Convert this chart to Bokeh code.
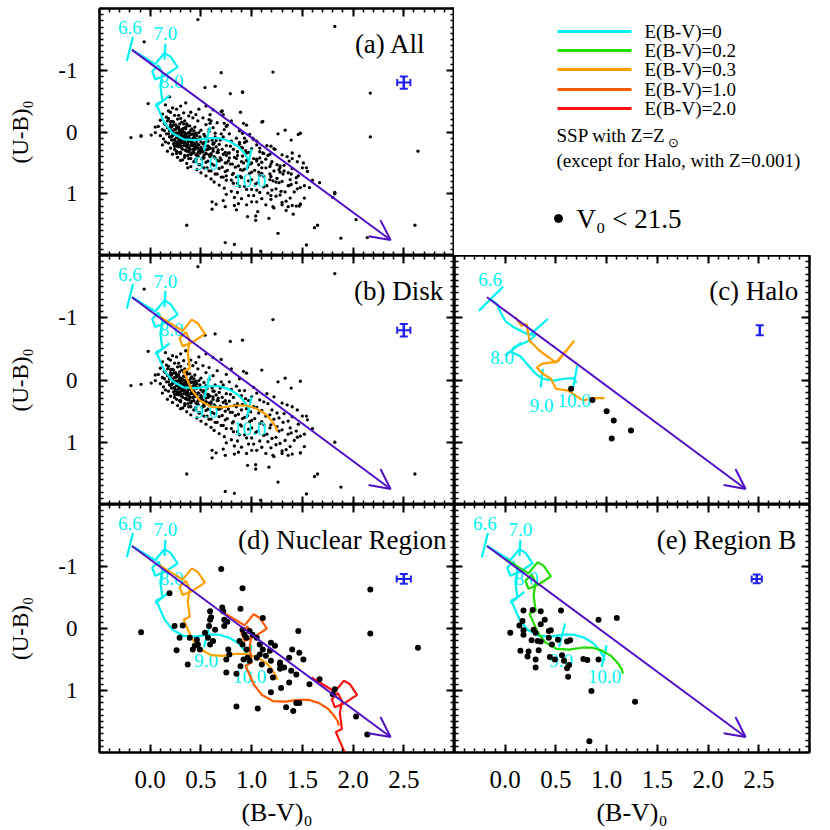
import numpy as np
from bokeh.plotting import figure
from bokeh.layouts import column, row
from bokeh.models import (Range1d, FixedTicker, LinearAxis, Arrow, OpenHead, Whisker, TeeHead,
                          ColumnDataSource, PrintfTickFormatter, CustomLabelingPolicy)
from bokeh.embed import file_html
from bokeh.resources import INLINE
from bokeh.core.properties import value

# ---------------------------------------------------------------- data
bv_ticks = [0.0, 0.5, 1.0, 1.5, 2.0, 2.5]
ub_ticks = [-1, 0, 1]

disk_bv = [
    0.15, 0.35, 0.55,
    0.22, 0.30, 0.48,
    0.18, 0.26, 0.40, 0.62,
    0.12, 0.20, 0.28, 0.33, 0.45, 0.70,
    0.16, 0.24, 0.30, 0.38, 0.52,
    0.10, 0.18, 0.22, 0.27, 0.34, 0.42, 0.58, 0.80,
    0.14, 0.20, 0.25, 0.31, 0.36, 0.47, 0.66,
    0.08, 0.15, 0.19, 0.23, 0.28, 0.33, 0.39, 0.44, 0.55, 0.75, 0.95,
    0.12, 0.17, 0.21, 0.26, 0.30, 0.35, 0.41, 0.50, 0.62,
    0.05, 0.14, 0.18, 0.22, 0.25, 0.29, 0.32, 0.37, 0.43, 0.48, 0.58, 0.70, 0.88,
    0.10, 0.16, 0.20, 0.24, 0.27, 0.31, 0.34, 0.38, 0.42, 0.46, 0.53, 0.64, 0.78,
    0.13, 0.19, 0.23, 0.26, 0.29, 0.33, 0.36, 0.40, 0.44, 0.49, 0.55, 0.61, 0.72, 0.85, 1.02,
    0.15, 0.21, 0.25, 0.28, 0.31, 0.35, 0.38, 0.41, 0.45, 0.50, 0.56, 0.63, 0.69, 0.80, 0.93,
    0.12, 0.18, 0.24, 0.27, 0.30, 0.34, 0.37, 0.40, 0.43, 0.47, 0.52, 0.57, 0.62, 0.68, 0.75, 0.88, 1.05,
    0.20, 0.26, 0.32, 0.36, 0.39, 0.42, 0.46, 0.50, 0.54, 0.59, 0.65, 0.71, 0.79, 0.90, 1.00, 1.15,
    0.17, 0.24, 0.29, 0.35, 0.38, 0.44, 0.48, 0.52, 0.57, 0.62, 0.67, 0.74, 0.82, 0.94, 1.08, 1.22,
    0.22, 0.30, 0.37, 0.41, 0.45, 0.50, 0.55, 0.60, 0.66, 0.72, 0.78, 0.86, 0.97, 1.12, 1.30,
    0.27, 0.34, 0.40, 0.47, 0.53, 0.58, 0.63, 0.69, 0.75, 0.83, 0.91, 1.02, 1.16, 1.35,
    0.30, 0.38, 0.45, 0.51, 0.57, 0.64, 0.70, 0.77, 0.85, 0.95, 1.05, 1.20, 1.40,
    0.36, 0.43, 0.49, 0.55, 0.61, 0.68, 0.74, 0.81, 0.90, 0.99, 1.10, 1.25, 1.45,
    0.40, 0.48, 0.56, 0.63, 0.71, 0.79, 0.87, 0.96, 1.07, 1.18, 1.32, 1.50,
    0.46, 0.53, 0.60, 0.68, 0.76, 0.84, 0.93, 1.03, 1.14, 1.27, 1.40,
    0.50, 0.58, 0.66, 0.74, 0.82, 0.91, 1.00, 1.10, 1.22, 1.36, 1.55,
    0.55, 0.64, 0.72, 0.81, 0.89, 0.98, 1.08, 1.19, 1.31, 1.46,
    0.60, 0.70, 0.80, 0.90, 1.00, 1.12, 1.25, 1.38,
    0.63, 0.75, 0.86, 0.97, 1.06, 1.18, 1.30, 1.44, 1.60,
    0.68, 0.82, 0.93, 1.04, 1.15, 1.27, 1.39, 1.52,
    0.73, 0.88, 1.00, 1.12, 1.24, 1.36, 1.48,
    0.80, 0.95, 1.08, 1.20, 1.33, 1.45,
    0.75, 0.86, 1.02, 1.16, 1.28, 1.42,
    0.83, 0.97, 1.10, 1.24, 1.38,
    0.72, 0.90, 1.05, 1.19, 1.34, 1.52,
    0.87, 1.00, 1.14, 1.30, 1.48,
    0.74, 0.95, 1.22, 1.40,
    # dense core
    0.21, 0.24, 0.28, 0.32, 0.35, 0.39, 0.26, 0.30, 0.34, 0.22,
    0.27, 0.31, 0.36, 0.40, 0.29, 0.33, 0.25, 0.38, 0.42, 0.46,
    0.23, 0.28, 0.33, 0.37, 0.41, 0.31, 0.35, 0.39, 0.44, 0.48,
    0.26, 0.30, 0.36, 0.43, 0.51, 0.34, 0.40, 0.47, 0.55, 0.32,
    0.17, 0.20, 0.23, 0.26, 0.29, 0.33, 0.37,
    0.19, 0.22, 0.25, 0.28, 0.31, 0.35, 0.40, 0.45,
    0.21, 0.24, 0.27, 0.30, 0.34, 0.38, 0.43, 0.49,
    0.25, 0.29, 0.32, 0.36, 0.41, 0.46, 0.53,
    0.28, 0.33, 0.38, 0.44, 0.50, 0.57,
    0.35, 0.42, 0.48, 0.55, 0.62,
    0.40, 0.47, 0.53, 0.60, 0.67,
    0.45, 0.52, 0.59, 0.66,
    # scattered
    0.47, -0.06, 1.82, 1.21, 0.64, 0.79, -0.02, -0.19, 1.10, 1.26,
    1.33, 1.39, 1.48, 0.92, 1.54, 1.48, 2.61, 1.88, 1.65, 1.62,
    1.54, 1.26, 1.09, 0.74, 0.83, 0.36, 1.04, 1.04, 0.96, 1.17,
    0.61, 0.61, 0.65, 0.83, 1.36, 1.30, 1.21,
    0.54, 0.91, -0.09, 0.01, 0.05, 1.82,
]
disk_ub = [
    -0.44, -0.47, -0.42,
    -0.39, -0.42, -0.37,
    -0.34, -0.37, -0.32, -0.36,
    -0.29, -0.32, -0.27, -0.31, -0.28, -0.33,
    -0.24, -0.27, -0.22, -0.26, -0.23,
    -0.19, -0.22, -0.17, -0.21, -0.18, -0.23, -0.20, -0.18,
    -0.14, -0.17, -0.12, -0.16, -0.13, -0.18, -0.15,
    -0.09, -0.12, -0.07, -0.11, -0.08, -0.13, -0.10, -0.08, -0.12, -0.09, -0.11,
    -0.04, -0.07, -0.02, -0.06, -0.03, -0.08, -0.05, -0.03, -0.07,
    0.01, -0.02, 0.03, -0.01, 0.02, -0.03, 0.00, 0.02, -0.02, 0.01, -0.01, 0.03, -0.02,
    0.06, 0.03, 0.08, 0.04, 0.07, 0.02, 0.05, 0.07, 0.03, 0.06, 0.04, 0.08, 0.03,
    0.11, 0.08, 0.13, 0.09, 0.12, 0.07, 0.10, 0.12, 0.08, 0.11, 0.09, 0.13, 0.08, 0.10, 0.12,
    0.16, 0.13, 0.18, 0.14, 0.17, 0.12, 0.15, 0.17, 0.13, 0.16, 0.14, 0.18, 0.13, 0.15, 0.17,
    0.21, 0.18, 0.23, 0.19, 0.22, 0.17, 0.20, 0.22, 0.18, 0.21, 0.19, 0.23, 0.18, 0.20, 0.22, 0.17, 0.21,
    0.26, 0.23, 0.28, 0.24, 0.27, 0.22, 0.25, 0.27, 0.23, 0.26, 0.24, 0.28, 0.23, 0.25, 0.27, 0.22,
    0.31, 0.28, 0.33, 0.29, 0.32, 0.27, 0.30, 0.32, 0.28, 0.31, 0.29, 0.33, 0.28, 0.30, 0.32, 0.27,
    0.36, 0.33, 0.38, 0.34, 0.37, 0.32, 0.35, 0.37, 0.33, 0.36, 0.34, 0.38, 0.33, 0.35, 0.37,
    0.41, 0.38, 0.43, 0.39, 0.42, 0.37, 0.40, 0.42, 0.38, 0.41, 0.39, 0.43, 0.38, 0.40,
    0.46, 0.43, 0.48, 0.44, 0.47, 0.42, 0.45, 0.47, 0.43, 0.46, 0.44, 0.48, 0.43,
    0.51, 0.48, 0.53, 0.49, 0.52, 0.47, 0.50, 0.52, 0.48, 0.51, 0.49, 0.53, 0.48,
    0.56, 0.53, 0.58, 0.54, 0.57, 0.52, 0.55, 0.57, 0.53, 0.56, 0.54, 0.58,
    0.61, 0.58, 0.63, 0.59, 0.62, 0.57, 0.60, 0.62, 0.58, 0.61, 0.59,
    0.66, 0.63, 0.68, 0.64, 0.67, 0.62, 0.65, 0.67, 0.63, 0.66, 0.64,
    0.71, 0.68, 0.73, 0.69, 0.72, 0.67, 0.70, 0.72, 0.68, 0.71,
    0.76, 0.73, 0.78, 0.74, 0.77, 0.72, 0.75, 0.77,
    0.81, 0.78, 0.83, 0.79, 0.82, 0.77, 0.80, 0.82, 0.78,
    0.86, 0.83, 0.88, 0.84, 0.87, 0.82, 0.85, 0.87,
    0.91, 0.88, 0.93, 0.89, 0.92, 0.87, 0.90,
    0.96, 0.93, 0.98, 0.94, 0.97, 0.92,
    1.01, 0.98, 1.03, 0.99, 1.02, 0.97,
    1.06, 1.03, 1.08, 1.04, 1.07,
    1.11, 1.08, 1.13, 1.09, 1.12, 1.07,
    1.16, 1.13, 1.18, 1.14, 1.17,
    1.21, 1.18, 1.23, 1.19,
    # dense core
    -0.08, -0.04, -0.06, -0.01, -0.05, 0.00, 0.02, 0.04, 0.01, 0.06,
    0.09, 0.06, 0.08, 0.04, 0.13, 0.11, 0.16, 0.14, 0.10, 0.12,
    0.19, 0.21, 0.17, 0.24, 0.19, 0.26, 0.22, 0.29, 0.25, 0.21,
    0.31, 0.35, 0.31, 0.33, 0.28, 0.41, 0.36, 0.39, 0.35, 0.45,
    -0.18, -0.12, -0.16, -0.09, -0.13, -0.06, -0.10,
    -0.02, 0.03, -0.04, 0.01, -0.01, 0.04, -0.03, 0.02,
    0.08, 0.12, 0.06, 0.10, 0.07, 0.09, 0.05, 0.08,
    0.16, 0.19, 0.14, 0.18, 0.15, 0.13, 0.17,
    0.24, 0.22, 0.26, 0.21, 0.25, 0.23,
    0.30, 0.28, 0.32, 0.29, 0.27,
    0.37, 0.34, 0.38, 0.35, 0.33,
    0.44, 0.42, 0.40, 0.46,
    # scattered
    -1.82, -1.46, -1.71, -0.97, -0.74, -0.62, -0.46, 0.09, -0.16, 0.03,
    -0.03, 0.13, 0.02, -0.14, 0.58, 1.17, 1.51, 1.72, 1.51, 1.55,
    1.83, 1.64, 1.93, 1.79, 1.82, 1.51, 1.36, 1.43, 1.37, 1.40,
    1.13, 1.25, 1.17, 1.19, 1.21, 1.18, 1.21,
    -0.72, -0.64, 0.07, 0.05, -0.08, 1.00,
]

halo_bv = [0.65, 0.86, 1.00, 1.07, 1.24, 1.05]
halo_ub = [0.14, 0.32, 0.50, 0.65, 0.81, 0.94]

nuc_bv = [
    0.70, 0.91, 0.19, 2.17, 0.89, 0.71, 0.72, 0.59, 0.60, 0.59,
    0.73, 0.76, 0.73, 0.58, 0.64, -0.09, 0.24, 0.32, 0.29, 0.39,
    0.46, 0.47, 0.44, 0.54, 0.57, 0.26, 0.37, 0.42, 0.49, 0.59,
    0.62, 0.77, 0.75, 0.78, 0.91, 0.93, 0.95, 0.98, 1.01, 1.05,
    0.88, 0.91, 0.95, 0.92, 0.96, 0.98, 1.08, 1.11, 1.18, 1.14,
    1.19, 1.23, 1.11, 1.08, 1.10, 1.05, 0.75, 0.85, 0.89, 1.19,
    1.28, 1.32, 1.18, 1.21, 1.28, 1.28, 1.37, 1.40, 1.47, 1.51,
    1.39, 1.44, 1.46, 1.19, 1.29, 1.34, 1.41, 1.44, 1.47, 0.85,
    1.06, 1.37, 1.57, 1.67, 1.82, 1.80, 2.03, 2.14, 2.17, 2.64,
]
nuc_ub = [
    -0.96, -0.65, -0.57, -0.63, -0.32, -0.34, -0.28, -0.28, -0.18, -0.14,
    -0.14, -0.11, -0.04, -0.04, 0.02, 0.06, -0.04, -0.05, 0.15, 0.15,
    0.18, 0.26, 0.28, 0.07, 0.15, 0.35, 0.58, 0.34, 0.34, 0.26,
    0.20, 0.34, 0.50, 0.42, 0.02, 0.10, 0.15, 0.04, 0.10, 0.15,
    0.20, 0.26, 0.34, 0.50, 0.47, 0.52, 0.26, 0.34, 0.36, 0.44,
    0.23, 0.28, -0.17, 0.42, 0.58, 0.47, 0.71, 0.73, 0.61, 0.52,
    0.55, 0.63, 0.68, 0.79, 0.58, 0.65, 0.47, 0.34, 0.39, 0.50,
    0.68, 0.74, 0.04, 1.03, 0.96, 1.27, 1.33, 1.20, 1.20, 1.26,
    1.29, 0.87, 0.90, 0.82, 0.98, 1.06, 1.42, 1.71, 0.08, 0.31,
]

regb_bv = [
    0.27, 0.35, 0.55, 0.18, 0.92, 1.10, 0.17, 0.39, 0.35, 0.14,
    0.05, 0.18, 0.18, 0.28, 0.30, 0.43, 0.45, 0.26, 0.32, 0.35,
    0.43, 0.46, 0.52, 0.61, 0.64, 0.15, 0.23, 0.33, 0.22, 0.30,
    0.44, 0.49, 0.58, 0.63, 0.61, 0.30, 0.56, 0.77, 0.81, 0.92,
    0.62, 0.85, 1.28, 0.83,
]
regb_ub = [
    -0.30, -0.28, -0.29, -0.29, -0.14, -0.17, -0.12, -0.14, -0.07, -0.05,
    0.07, 0.03, 0.10, 0.02, 0.07, 0.04, 0.03, 0.19, 0.20, 0.21,
    0.15, 0.26, 0.18, 0.21, 0.19, 0.36, 0.37, 0.35, 0.45, 0.50,
    0.46, 0.50, 0.52, 0.59, 0.64, 0.63, 0.43, 0.49, 0.51, 0.50,
    0.78, 1.01, 1.18, 1.82,
]

# SSP tracks, solar metallicity (E(B-V)=0, 0.2, 0.3, 1.0, 2.0)
ssp0_bv = [-0.18, -0.05, 0.05, 0.14, 0.20, 0.27, 0.15, 0.05, 0.02, 0.08, 0.12, 0.10, 0.12,
           0.06, 0.10, 0.14, 0.22, 0.33, 0.45, 0.57, 0.68, 0.78, 0.87, 0.93, 0.97, 0.98]
ssp0_ub = [-1.33, -1.20, -1.10, -1.28, -1.22, -1.05, -0.92, -0.85, -0.98, -1.08, -0.95, -0.75, -0.50,
           -0.45, -0.30, -0.15, 0.02, 0.12, 0.13, 0.10, 0.10, 0.15, 0.24, 0.35, 0.45, 0.52]
ssp02_bv = [0.00, 0.13, 0.23, 0.32, 0.38, 0.45, 0.33, 0.23, 0.20, 0.26, 0.30, 0.28, 0.30,
            0.24, 0.28, 0.32, 0.40, 0.51, 0.63, 0.75, 0.86, 0.96, 1.05, 1.11, 1.15, 1.16]
ssp02_ub = [-1.12, -0.99, -0.89, -1.07, -1.01, -0.84, -0.71, -0.64, -0.77, -0.87, -0.74, -0.54, -0.29,
            -0.24, -0.09, 0.06, 0.23, 0.33, 0.34, 0.31, 0.31, 0.36, 0.45, 0.56, 0.66, 0.73]
ssp03_bv = [0.09, 0.22, 0.32, 0.41, 0.47, 0.54, 0.42, 0.32, 0.29, 0.35, 0.39, 0.37, 0.39,
            0.33, 0.37, 0.41, 0.49, 0.60, 0.72, 0.84, 0.95, 1.05, 1.14, 1.20, 1.24, 1.25]
ssp03_ub = [-1.02, -0.89, -0.79, -0.97, -0.91, -0.74, -0.61, -0.54, -0.67, -0.77, -0.64, -0.44, -0.19,
            -0.14, 0.01, 0.16, 0.33, 0.43, 0.44, 0.41, 0.41, 0.46, 0.55, 0.66, 0.76, 0.83]
ssp10_bv = [0.70, 0.83, 0.93, 1.02, 1.08, 1.15, 1.03, 0.93, 0.90, 0.96, 1.00, 0.98, 1.00,
            0.94, 0.98, 1.02, 1.10, 1.21, 1.33, 1.45, 1.56, 1.66, 1.75, 1.81, 1.85, 1.86]
ssp10_ub = [-0.28, -0.15, -0.05, -0.23, -0.17, 0.00, 0.13, 0.20, 0.07, -0.03, 0.10, 0.30, 0.55,
            0.60, 0.75, 0.90, 1.07, 1.17, 1.18, 1.15, 1.15, 1.20, 1.29, 1.40, 1.50, 1.57]
ssp20_bv = [1.59, 1.72, 1.82, 1.91, 1.97, 2.04, 1.92, 1.82, 1.79, 1.85, 1.89, 1.87, 1.89,
            1.83, 1.87, 1.91, 1.99, 2.10, 2.22, 2.34, 2.45, 2.55, 2.64, 2.70, 2.74, 2.75]
ssp20_ub = [0.79, 0.92, 1.02, 0.84, 0.90, 1.07, 1.20, 1.27, 1.14, 1.04, 1.17, 1.37, 1.62,
            1.67, 1.82, 1.97, 2.14, 2.24, 2.25, 2.22, 2.22, 2.27, 2.36, 2.47, 2.57, 2.64]

# age ticks (log age) on the E(B-V)=0 solar track
age_labels = ["6.6", "7.0", "8.0", "9.0", "10.0"]
age_tick_bv0 = [-0.23, 0.15, 0.05, 0.53, 0.95]
age_tick_ub0 = [-1.15, -1.43, -0.41, 0.30, 0.62]
age_tick_bv1 = [-0.17, 0.14, 0.19, 0.59, 1.00]
age_tick_ub1 = [-1.54, -1.17, -0.59, -0.08, 0.27]

# SSP tracks, Z=0.001 (halo)
halo0_bv = [-0.15, -0.08, -0.05, 0.00, 0.08, 0.20, 0.30, 0.22, 0.08, 0.06, 0.15, 0.22,
            0.30, 0.37, 0.48, 0.58, 0.68, 0.70]
halo0_ub = [-1.30, -1.22, -1.10, -0.95, -0.85, -0.75, -0.72, -0.62, -0.52, -0.45, -0.38, -0.25,
            -0.10, -0.02, 0.01, -0.02, -0.03, 0.05]
halo03_bv = [0.10, 0.16, 0.21, 0.24, 0.34, 0.50, 0.60, 0.68, 0.52, 0.36, 0.31, 0.37, 0.45,
             0.50, 0.62, 0.72, 0.77, 0.86, 0.98]
halo03_ub = [-1.01, -0.87, -0.90, -0.63, -0.47, -0.28, -0.47, -0.63, -0.30, -0.26, -0.20, -0.10, -0.02,
             0.14, 0.17, 0.28, 0.33, 0.29, 0.29]
halo_age_labels = ["6.6", "8.0", "9.0", "10.0"]
halo_age_tick_bv0 = [-0.26, 0.23, 0.00, 0.37, 0.71]
halo_age_tick_ub0 = [-1.11, -0.71, -0.39, -0.18, -0.23]
halo_age_tick_bv1 = [-0.02, 0.42, 0.16, 0.35, 0.67]
halo_age_tick_ub1 = [-1.50, -0.98, -0.60, 0.12, 0.12]

# reddening vector
redd_bv = [-0.18, 2.37]
redd_ub = [-1.33, 1.75]

# typical photometric errors per panel: (B-V, U-B, sigma_BV, sigma_UB)
err_a = (2.50, -0.80, 0.065, 0.10)
err_b = (2.50, -0.80, 0.065, 0.10)
err_c = (2.51, -0.80, 0.0, 0.08)
err_d = (2.50, -0.80, 0.07, 0.08)
err_e = (2.48, -0.80, 0.05, 0.07)

ebv_labels = ["E(B-V)=0", "E(B-V)=0.2", "E(B-V)=0.3", "E(B-V)=1.0", "E(B-V)=2.0"]

# ---------------------------------------------------------------- style
FONT = "Liberation Serif"
C_CYAN = "#00f2f2"
C_GREEN = "#22dd00"
C_ORANGE = "#ffa000"
C_ORED = "#ff5a00"
C_RED = "#ff1010"
C_ARROW = "#5010c8"
C_ERR = "#2020ee"
TRACK_COLORS = [C_CYAN, C_GREEN, C_ORANGE, C_ORED, C_RED]

XR = (-0.5, 3.0)
YR = (2.0, -2.0)
FW = 355
LB = 99
RB = 12
TB = 8

x_minor = [round(v, 2) for v in np.arange(-0.5, 3.0001, 0.1)]
y_minor = [round(v, 2) for v in np.arange(-2.0, 2.0001, 0.1)]

NO_LABELS = CustomLabelingPolicy(code="""
const all = [...indices];
for (const i of all) indices.unset(i);
return indices;
""")


def style_axis(ax, major, minor, fmt, show, font_size, standoff):
    ax.ticker = FixedTicker(ticks=major, minor_ticks=minor)
    ax.formatter = PrintfTickFormatter(format=fmt)
    ax.axis_line_color = "black"
    ax.axis_line_width = 2
    ax.major_tick_in = 8
    ax.major_tick_out = 0
    ax.minor_tick_in = 4
    ax.minor_tick_out = 0
    ax.major_tick_line_color = "black"
    ax.major_tick_line_width = 2
    ax.minor_tick_line_color = "black"
    ax.minor_tick_line_width = 1.5
    if show:
        ax.major_label_text_font = FONT
        ax.major_label_text_font_size = font_size
        ax.major_label_text_color = "black"
        ax.major_label_standoff = standoff
        ax.major_label_policy = CustomLabelingPolicy(code="return indices;")
    else:
        ax.major_label_text_font_size = "0px"
        ax.major_label_standoff = 0
        ax.major_label_policy = NO_LABELS


def make_panel(fh, is_left, is_bottom, top_border, bottom_border):
    p = figure(frame_width=FW, frame_height=fh,
               x_range=Range1d(*XR), y_range=Range1d(*YR),
               output_backend="svg", toolbar_location=None,
               min_border_left=LB if is_left else 0,
               min_border_right=0 if is_left else RB,
               min_border_top=top_border, min_border_bottom=bottom_border)
    p.add_layout(LinearAxis(), "above")
    p.add_layout(LinearAxis(), "right")
    p.grid.visible = False
    p.outline_line_color = "black"
    p.outline_line_width = 2
    for ax in p.xaxis:
        style_axis(ax, bv_ticks, x_minor, "%.1f", False, "0px", 0)
    for ax in p.yaxis:
        style_axis(ax, ub_ticks, y_minor, "%d", False, "0px", 0)
    if is_bottom:
        bx = p.below[0]
        style_axis(bx, bv_ticks, x_minor, "%.1f", True, "25px", 18)
        bx.axis_label = "(B-V)\u2080"
        bx.axis_label_text_font = FONT
        bx.axis_label_text_font_size = "26px"
        bx.axis_label_text_font_style = "normal"
        bx.axis_label_text_color = "black"
        bx.axis_label_standoff = 7
    if is_left:
        ly = p.left[0]
        style_axis(ly, ub_ticks, y_minor, "%d", True, "23px", 22)
        ly.axis_label = "(U-B)\u2080"
        ly.axis_label_text_font = FONT
        ly.axis_label_text_font_size = "23px"
        ly.axis_label_text_font_style = "normal"
        ly.axis_label_text_color = "black"
        ly.axis_label_standoff = 22
    # reddening vector
    p.add_layout(Arrow(end=OpenHead(size=20, line_color=C_ARROW, line_width=2),
                       x_start=redd_bv[0], y_start=redd_ub[0],
                       x_end=redd_bv[1], y_end=redd_ub[1],
                       line_color=C_ARROW, line_width=2))
    return p


def add_points(p, bv, ub, size):
    n = min(len(bv), len(ub))
    p.scatter(bv[:n], ub[:n], size=size, color="black", line_color=None)


def add_err(p, err):
    x, y, dx, dy = err
    if dx > 0:
        src = ColumnDataSource(dict(base=[y], lo=[x - dx], hi=[x + dx]))
        p.add_layout(Whisker(source=src, base="base", lower="lo", upper="hi", dimension="width",
                             line_color=C_ERR, line_width=2,
                             upper_head=TeeHead(size=7, line_color=C_ERR, line_width=2),
                             lower_head=TeeHead(size=7, line_color=C_ERR, line_width=2)))
    src2 = ColumnDataSource(dict(base=[x], lo=[y - dy], hi=[y + dy]))
    p.add_layout(Whisker(source=src2, base="base", lower="lo", upper="hi", dimension="height",
                         line_color=C_ERR, line_width=2.5,
                         upper_head=TeeHead(size=8, line_color=C_ERR, line_width=2),
                         lower_head=TeeHead(size=8, line_color=C_ERR, line_width=2)))


def add_track(p, bv, ub, color):
    p.line(bv, ub, line_color=color, line_width=2.2)


def add_solar_ages(p):
    add_track(p, ssp0_bv, ssp0_ub, C_CYAN)
    p.segment(age_tick_bv0, age_tick_ub0, age_tick_bv1, age_tick_ub1, line_color=C_CYAN, line_width=2.2)
    p.text(x=[-0.20, 0.15, 0.21, 0.55, 0.98], y=[-1.70, -1.59, -0.81, 0.51, 0.78], text=age_labels,
           text_font=value(FONT), text_font_size="19px", text_color=C_CYAN,
           text_align="center", text_baseline="middle")


def add_title(p, txt, xr):
    p.text(x=[xr], y=[-1.43], text=[txt], text_font=value(FONT), text_font_size="27px",
           text_color="black", text_align="right", text_baseline="middle")


H_TOP, H_MID, H_BOT = 247, 249, 248

# (a) All
pa = make_panel(H_TOP, True, False, TB, 0)
add_points(pa, disk_bv + halo_bv + nuc_bv, disk_ub + halo_ub + nuc_ub, 3.3)
add_solar_ages(pa)
add_err(pa, err_a)
add_title(pa, "(a) All", 2.72)

# legend panel (pixel coordinates inside an axis-less frame)
pl = figure(frame_width=FW, frame_height=H_TOP, x_range=Range1d(0, FW), y_range=Range1d(H_TOP, 0),
            output_backend="svg", toolbar_location=None, x_axis_type=None, y_axis_type=None,
            min_border_left=0, min_border_right=RB, min_border_top=TB, min_border_bottom=0)
pl.grid.visible = False
pl.outline_line_color = None
rows_y = [23, 42, 61, 81, 100]
pl.segment(x0=[103] * 5, y0=rows_y, x1=[177] * 5, y1=rows_y, line_color=TRACK_COLORS, line_width=3)
pl.text(x=[190] * 5, y=rows_y, text=ebv_labels, text_font=value(FONT), text_font_size="19px",
        text_color="black", text_align="left", text_baseline="middle")
pl.text(x=[102], y=[127], text=["SSP with Z=Z"], text_font=value(FONT), text_font_size="19px",
        text_color="black", text_align="left", text_baseline="middle")
pl.text(x=[213], y=[134], text=["\u2299"], text_font=value(FONT), text_font_size="13px",
        text_color="black", text_align="left", text_baseline="middle")
pl.text(x=[102], y=[152], text=["(except for Halo, with Z=0.001)"], text_font=value(FONT),
        text_font_size="19px", text_color="black", text_align="left", text_baseline="middle")
pl.scatter(x=[104], y=[210], size=8, color="black")
pl.text(x=[122], y=[210], text=["V\u2080 < 21.5"], text_font=value(FONT), text_font_size="27px",
        text_color="black", text_align="left", text_baseline="middle")

# (b) Disk
pb = make_panel(H_MID, True, False, 0, 0)
add_points(pb, disk_bv, disk_ub, 3.3)
add_solar_ages(pb)
add_track(pb, ssp03_bv, ssp03_ub, C_ORANGE)
add_err(pb, err_b)
add_title(pb, "(b) Disk", 2.89)

# (c) Halo
pc = make_panel(H_MID, False, False, 0, 0)
add_track(pc, halo0_bv, halo0_ub, C_CYAN)
pc.segment(halo_age_tick_bv0, halo_age_tick_ub0, halo_age_tick_bv1, halo_age_tick_ub1,
           line_color=C_CYAN, line_width=2.2)
add_track(pc, halo03_bv, halo03_ub, C_ORANGE)
pc.text(x=[-0.15, -0.03, 0.36, 0.68], y=[-1.62, -0.36, 0.41, 0.33],
        text=halo_age_labels, text_font=value(FONT), text_font_size="19px",
        text_color=C_CYAN, text_align="center", text_baseline="middle")
add_points(pc, halo_bv, halo_ub, 6)
add_err(pc, err_c)
add_title(pc, "(c) Halo", 2.89)

# (d) Nuclear region
pd_ = make_panel(H_BOT, True, True, 0, 72)
add_solar_ages(pd_)
add_track(pd_, ssp03_bv, ssp03_ub, C_ORANGE)
add_track(pd_, ssp10_bv, ssp10_ub, C_ORED)
add_track(pd_, ssp20_bv, ssp20_ub, C_RED)
add_points(pd_, nuc_bv, nuc_ub, 6)
add_err(pd_, err_d)
add_title(pd_, "(d) Nuclear Region", 2.92)

# (e) Region B
pe = make_panel(H_BOT, False, True, 0, 72)
add_solar_ages(pe)
add_track(pe, ssp02_bv, ssp02_ub, C_GREEN)
add_points(pe, regb_bv, regb_ub, 6)
add_err(pe, err_e)
add_title(pe, "(e) Region B", 2.87)

layout = column(row(pa, pl), row(pb, pc), row(pd_, pe))
open("out.html", "w").write(file_html(layout, INLINE))
